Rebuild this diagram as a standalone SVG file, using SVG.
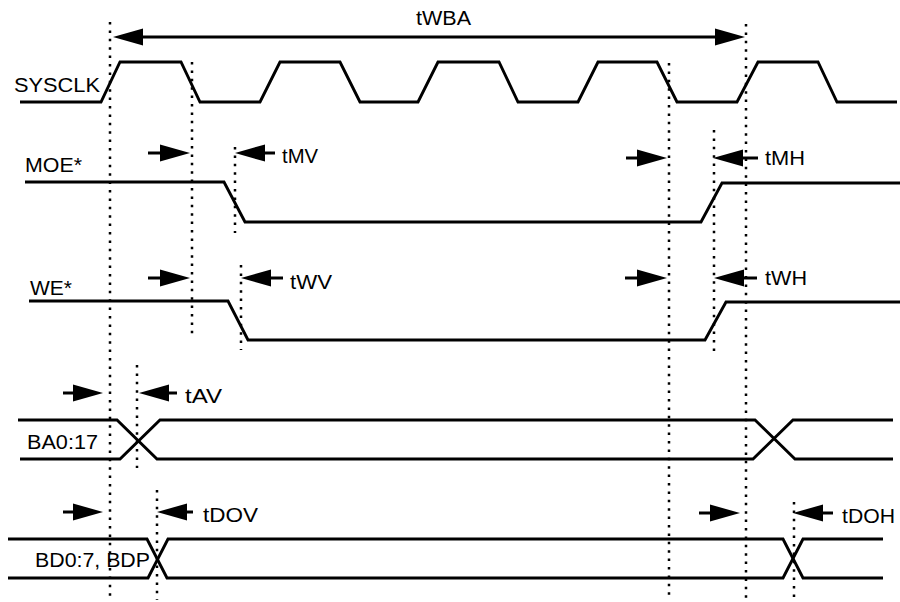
<svg xmlns="http://www.w3.org/2000/svg" width="900" height="602" viewBox="0 0 900 602">
<style>
.w{fill:none;stroke:#000;stroke-width:2.9;stroke-linejoin:miter}
.d{fill:none;stroke:#000;stroke-width:2.5;stroke-dasharray:2.5 5.9}
.a{fill:none;stroke:#000;stroke-width:3;marker-end:url(#ah)}
.t{font-family:"Liberation Sans",Arial,sans-serif;font-size:20px;fill:#000}
</style>
<defs>
<marker id="ah" markerUnits="userSpaceOnUse" markerWidth="32" markerHeight="18" refX="0" refY="8.5" orient="auto" overflow="visible">
<path d="M0,0 L30,8.5 L0,17 Z" fill="#000"/>
</marker>
<marker id="ahs" markerUnits="userSpaceOnUse" markerWidth="32" markerHeight="18" refX="0" refY="8.5" orient="auto-start-reverse" overflow="visible">
<path d="M0,0 L30,8.5 L0,17 Z" fill="#000"/>
</marker>
</defs>
<rect width="900" height="602" fill="#fff"/>
<g id="guides">
<line class="d" x1="110" y1="22" x2="110" y2="600"/>
<line class="d" x1="192" y1="62" x2="192" y2="338"/>
<line class="d" x1="235" y1="147" x2="235" y2="233"/>
<line class="d" x1="241" y1="265" x2="241" y2="350"/>
<line class="d" x1="137" y1="365" x2="137" y2="468"/>
<line class="d" x1="157" y1="490" x2="157" y2="600"/>
<line class="d" x1="669" y1="63" x2="669" y2="600"/>
<line class="d" x1="746" y1="24" x2="746" y2="600"/>
<line class="d" x1="714" y1="130" x2="714" y2="355"/>
<line class="d" x1="794" y1="502" x2="794" y2="600"/>
</g>
<g id="SYSCLK">
<path class="w" d="M20,102 L101,102 L120,62 L181,62 L200,102 L260,102 L280,62 L340,62 L360,102 L418,102 L438,62 L499,62 L518,102 L578,102 L598,62 L657,62 L677,102 L737,102 L758,62 L818,62 L837,102 L897,102"/>
<text class="t" x="14" y="92" textLength="86" lengthAdjust="spacingAndGlyphs">SYSCLK</text>
</g>
<g id="MOE">
<path class="w" d="M25,182 L224,182 L245,222 L701,222 L722,183 L900,183"/>
<text class="t" x="25" y="172" textLength="57" lengthAdjust="spacingAndGlyphs">MOE*</text>
</g>
<g id="WE">
<path class="w" d="M29,301 L228,301 L248,340 L705,340 L726,302 L900,302"/>
<text class="t" x="30" y="295" textLength="42" lengthAdjust="spacingAndGlyphs">WE*</text>
</g>
<g id="BA">
<path class="w" d="M18,420 L117,420 L157,459 L753,459 L793,420 L893,420"/>
<path class="w" d="M20,459 L120,459 L160,420 L755,420 L795,459 L893,459"/>
<text class="t" x="27" y="449" textLength="71" lengthAdjust="spacingAndGlyphs">BA0:17</text>
</g>
<g id="BD">
<path class="w" d="M8,539 L147,539 L167,578 L783,578 L803,539 L883,539"/>
<path class="w" d="M8,578 L148,578 L168,539 L783,539 L803,578 L883,578"/>
<text class="t" x="35" y="567" textLength="115" lengthAdjust="spacingAndGlyphs">BD0:7, BDP</text>
</g>
<g id="connectors">
<line x1="143" y1="37" x2="715" y2="37" stroke="#000" stroke-width="3" marker-start="url(#ahs)" marker-end="url(#ahs)"/>
<line class="a" x1="148" y1="153" x2="160" y2="153"/>
<line class="a" x1="275" y1="153" x2="265" y2="153"/>
<line class="a" x1="626" y1="158" x2="637" y2="158"/>
<line class="a" x1="758" y1="158" x2="743" y2="158"/>
<line class="a" x1="148" y1="278" x2="160" y2="278"/>
<line class="a" x1="283" y1="278" x2="271" y2="278"/>
<line class="a" x1="625" y1="278" x2="637" y2="278"/>
<line class="a" x1="757" y1="278" x2="744" y2="278"/>
<line class="a" x1="63" y1="393" x2="73" y2="393"/>
<line class="a" x1="177" y1="393" x2="169" y2="393"/>
<line class="a" x1="63" y1="512" x2="73" y2="512"/>
<line class="a" x1="193" y1="512" x2="187" y2="512"/>
<line class="a" x1="699" y1="513" x2="710" y2="513"/>
<line class="a" x1="833" y1="513" x2="823" y2="513"/>
</g>
<g id="labels">
<text class="t" x="416" y="25" textLength="55" lengthAdjust="spacingAndGlyphs">tWBA</text>
<text class="t" x="282" y="163" textLength="36" lengthAdjust="spacingAndGlyphs">tMV</text>
<text class="t" x="765" y="165" textLength="40" lengthAdjust="spacingAndGlyphs">tMH</text>
<text class="t" x="290" y="289" textLength="42" lengthAdjust="spacingAndGlyphs">tWV</text>
<text class="t" x="765" y="285" textLength="42" lengthAdjust="spacingAndGlyphs">tWH</text>
<text class="t" x="185" y="403" textLength="37" lengthAdjust="spacingAndGlyphs">tAV</text>
<text class="t" x="203" y="522" textLength="55" lengthAdjust="spacingAndGlyphs">tDOV</text>
<text class="t" x="842" y="523" textLength="53" lengthAdjust="spacingAndGlyphs">tDOH</text>
</g>
</svg>
